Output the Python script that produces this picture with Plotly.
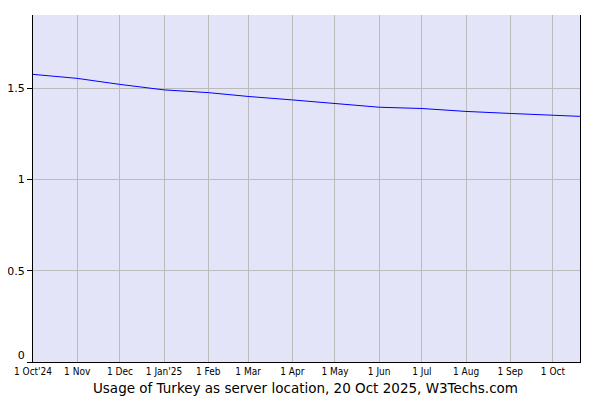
import plotly.graph_objects as go

dates = ['2024-10-01', '2024-11-01', '2024-12-01', '2025-01-01', '2025-02-01',
         '2025-03-01', '2025-04-01', '2025-05-01', '2025-06-01', '2025-07-01',
         '2025-08-01', '2025-09-01', '2025-10-01', '2025-10-20']
usage = [1.575, 1.553, 1.520, 1.490, 1.475, 1.454, 1.435, 1.417, 1.395,
         1.388, 1.372, 1.361, 1.351, 1.345]

tick_dates = dates[:13]
tick_text = ["1 Oct'24", '1 Nov', '1 Dec', "1 Jan'25", '1 Feb', '1 Mar', '1 Apr',
             '1 May', '1 Jun', '1 Jul', '1 Aug', '1 Sep', '1 Oct']
y_ticks = [0, 0.5, 1, 1.5]
y_labels = ['0<br> ', '0.5', '1', '1.5']  # 0 sits a bit higher, above the date labels

fig = go.Figure()
fig.add_trace(go.Scatter(
    x=dates, y=usage, mode='lines',
    line=dict(color='#0000ff', width=1),
    showlegend=False,
))

# page body has an 8px margin, so the figure is drawn 8px smaller/shifted
fig.update_layout(
    width=592, height=392,
    margin=dict(l=25, r=20, t=7, b=38, autoexpand=False),
    paper_bgcolor='white',
    plot_bgcolor='#e4e4f8',
    font=dict(family='DejaVu Sans', color='black'),
    title=dict(text='Usage of Turkey as server location, 20 Oct 2025, W3Techs.com',
               font=dict(size=13.5), xref='container', x=0.5025,
               yref='container', y=0.031, xanchor='center', yanchor='middle'),
)
fig.update_xaxes(
    range=['2024-10-01', '2025-10-20'],
    tickvals=tick_dates, ticktext=tick_text,
    tickfont=dict(family='DejaVu Sans Condensed', size=10),
    showgrid=True, gridcolor='#bbbbbb', gridwidth=1,
    showline=True, linecolor='black', linewidth=1,
    ticks='', ticklabelstandoff=0, automargin=False,
    zeroline=False,
)
fig.update_yaxes(
    range=[0, 1.9],
    tickvals=y_ticks, ticktext=y_labels,
    tickfont=dict(size=11),
    showgrid=True, gridcolor='#bbbbbb', gridwidth=1,
    showline=True, linecolor='black', linewidth=1, mirror=True,
    ticks='outside', ticklen=5, tickcolor='black', automargin=False,
    zeroline=False,
)

fig.write_html('out.html')
